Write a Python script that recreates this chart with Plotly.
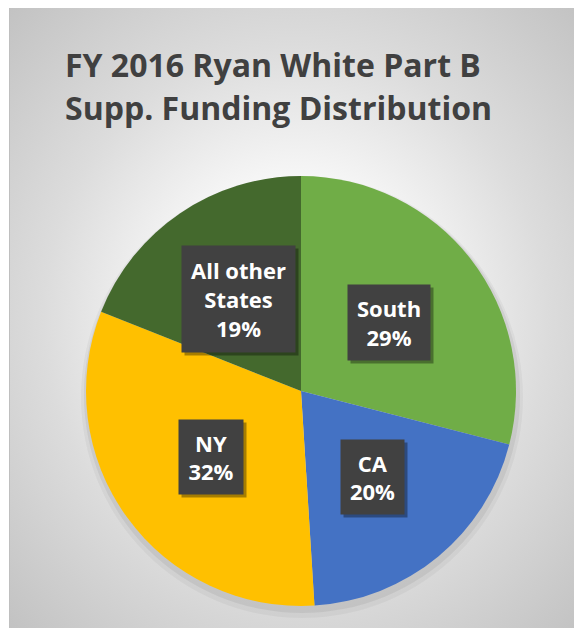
import math
import plotly.graph_objects as go

# slices, clockwise from 12 o'clock
labels = ["South", "CA", "NY", "All other<br>States"]
values = [29, 20, 32, 19]
colors = ["#70AD47", "#4472C4", "#FFC000", "#44692D"]

title_lines = ["FY 2016 Ryan White Part B", "Supp. Funding Distribution"]

# the page adds an 8px body margin, so the figure is 8px smaller than the window
W, H = 574, 620
# pie placement in figure pixels: centre and radius
pie_cx, pie_cy, pie_r = 293, 383, 215
label_frac = 0.52  # where the label boxes sit, as a share of the radius
box_w = [82, 63, 64, 113]  # label box sizes (px)
box_h = [75, 74, 74, 106]

fig = go.Figure()

# radial grey background of the chart area (filled polygon so it can take a gradient)
bx, by = (W - 1) / 2, H / 2
hx, hy = bx * 1.42, by * 1.42
fig.add_trace(go.Scatter(
    x=[bx - hx, bx + hx, bx + hx, bx - hx, bx - hx],
    y=[by - hy, by - hy, by + hy, by + hy, by - hy],
    mode="lines", line=dict(width=0), fill="toself",
    fillgradient=dict(type="radial", colorscale=[
        [0, "#ffffff"], [0.3, "#f8f8f8"], [0.62, "#dcdcdc"], [1, "#c2c2c2"]]),
    hoverinfo="skip", showlegend=False,
))

def dom(cx, cy, r):
    return dict(x=[(cx - r) / W, (cx + r) / W], y=[1 - (cy + r) / H, 1 - (cy - r) / H])

# soft shadow under the pie
for grow, shift, alpha in [(6, 6, 0.04), (3, 4, 0.06)]:
    fig.add_trace(go.Pie(
        values=[1], marker=dict(colors=[f"rgba(0,0,0,{alpha})"], line=dict(width=0)),
        domain=dom(pie_cx + 1, pie_cy + shift, pie_r + grow),
        textinfo="none", hoverinfo="skip", showlegend=False, sort=False,
    ))

fig.add_trace(go.Pie(
    labels=labels, values=values, sort=False, direction="clockwise", rotation=0,
    marker=dict(colors=colors, line=dict(width=0)),
    domain=dom(pie_cx, pie_cy, pie_r),
    textinfo="none", showlegend=False,
))

# label boxes, placed from the slice mid-angles
total = sum(values)
cum = 0
for lab, v, bw, bh in zip(labels, values, box_w, box_h):
    mid = (cum + v / 2) / total * 2 * math.pi
    cum += v
    lx = pie_cx + label_frac * pie_r * math.sin(mid)
    ly = pie_cy - label_frac * pie_r * math.cos(mid)
    common = dict(x=lx / W, y=1 - ly / H, xref="paper", yref="paper",
                  xanchor="center", yanchor="middle", showarrow=False,
                  width=bw, height=bh, borderpad=0, align="center", valign="middle")
    # drop shadow
    fig.add_annotation(text=" ", bgcolor="rgba(0,0,0,0.35)", xshift=3, yshift=-3, **common)
    fig.add_annotation(
        text=f"{lab}<br>{round(v / total * 100)}%", bgcolor="#414141",
        font=dict(family="Open Sans", size=22, weight="bold", color="white"),
        **common,
    )

for i, line in enumerate(title_lines):
    fig.add_annotation(
        x=55 / W, y=1 - (57 + 43 * i) / H, xref="paper", yref="paper",
        xanchor="left", yanchor="middle", text=line, showarrow=False,
        font=dict(family="Open Sans", size=32, weight="bold", color="#404040"),
    )

# thin left border of the chart area
fig.add_shape(type="line", xref="paper", yref="paper",
              x0=1.5 / W, x1=1.5 / W, y0=0, y1=1,
              line=dict(color="#bfbfbf", width=1), layer="above")

fig.update_layout(
    width=W, height=H, margin=dict(l=0, r=0, t=0, b=0),
    paper_bgcolor="white", plot_bgcolor="rgba(0,0,0,0)",
    xaxis=dict(domain=[1 / W, 1], range=[0, W - 1], visible=False, fixedrange=True),
    yaxis=dict(domain=[0, 1], range=[0, H], visible=False, fixedrange=True),
)

fig.write_html("out.html")
